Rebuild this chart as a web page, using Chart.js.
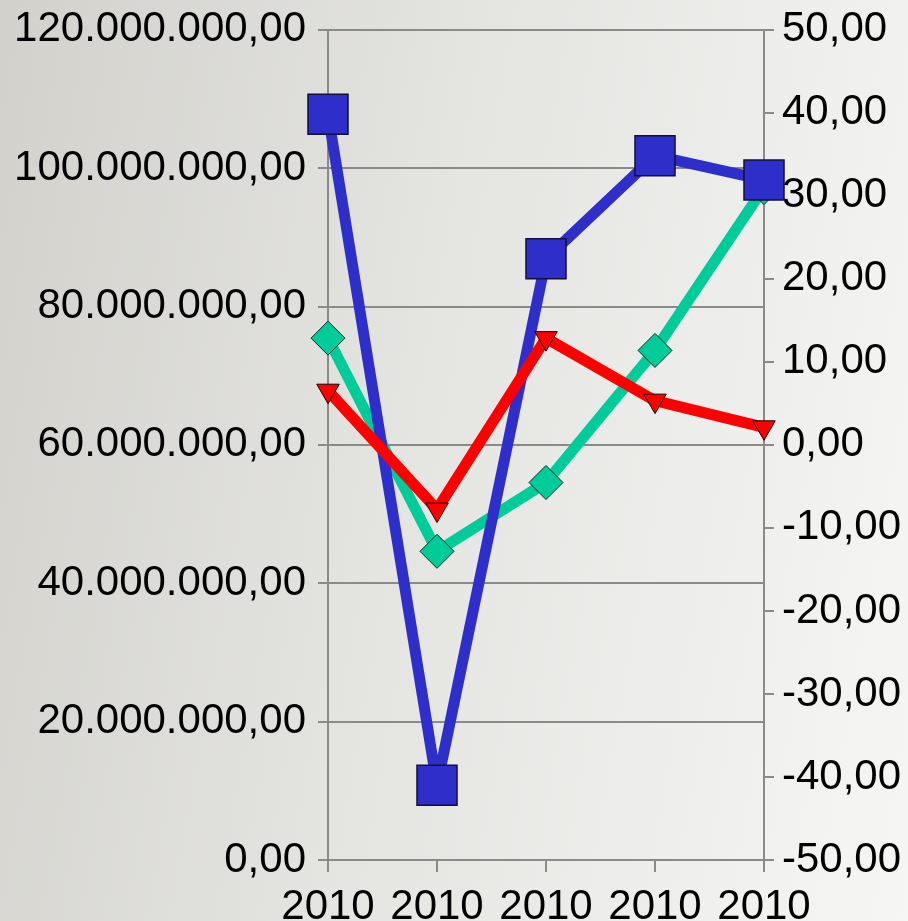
<!DOCTYPE html>
<html>
<head>
<meta charset="utf-8">
<script src="https://cdn.jsdelivr.net/npm/chart.js@4/dist/chart.umd.min.js"></script>
<style>
  html, body { margin: 0; padding: 0; }
  body {
    width: 908px; height: 921px; overflow: hidden;
    background: linear-gradient(100deg, #d2d1cc 0%, #e4e4e1 45%, #f6f6f5 100%);
  }
  canvas { display: block; }
</style>
</head>
<body>
<canvas id="c" width="908" height="921"></canvas>
<script>
// Data
const categories = ['2010', '2010', '2010', '2010', '2010'];
const blueValues = [107800000, 10800000, 86900000, 101800000, 98300000]; // left axis
const greenValues = [12.86, -12.82, -4.53, 11.38, 31.0];                 // right axis
const redValues = [6.53, -7.79, 12.86, 5.33, 2.12];                      // right axis
const leftTicks = [0, 20000000, 40000000, 60000000, 80000000, 100000000, 120000000];
const rightTicks = [-50, -40, -30, -20, -10, 0, 10, 20, 30, 40, 50];

function fmtNum(v) {
  const neg = v < 0;
  const abs = Math.abs(v);
  const parts = abs.toFixed(2).split('.');
  const intPart = parts[0].replace(/\B(?=(\d{3})+(?!\d))/g, '.');
  return (neg ? '-' : '') + intPart + ',' + parts[1];
}

const FONT = { family: '"Liberation Sans", Arial, sans-serif', size: 42 };
const GRID = '#8a8a8a';

new Chart(document.getElementById('c'), {
  type: 'line',
  data: {
    labels: categories,
    datasets: [
      {
        label: 'red',
        data: redValues,
        yAxisID: 'y1',
        borderColor: '#ff0000',
        backgroundColor: '#ff0000',
        borderWidth: 11,
        borderJoinStyle: 'round',
        pointStyle: 'triangle',
        rotation: 180,
        pointRadius: 13,
        pointBackgroundColor: '#ff0000',
        pointBorderColor: '#1a0000',
        pointBorderWidth: 1,
        tension: 0,
        order: 1
      },
      {
        label: 'blue',
        data: blueValues,
        yAxisID: 'y',
        borderColor: '#2e2ecb',
        backgroundColor: '#2e2ecb',
        borderWidth: 11,
        borderJoinStyle: 'round',
        pointStyle: 'rect',
        pointRadius: 28.3,
        pointBackgroundColor: '#2e2ecb',
        pointBorderColor: '#10103a',
        pointBorderWidth: 1.5,
        tension: 0,
        order: 2
      },
      {
        label: 'green',
        data: greenValues,
        yAxisID: 'y1',
        borderColor: '#00cc99',
        backgroundColor: '#00cc99',
        borderWidth: 11,
        borderJoinStyle: 'round',
        pointStyle: 'rectRot',
        pointRadius: 17,
        pointBackgroundColor: '#00cc99',
        pointBorderColor: '#0a2a20',
        pointBorderWidth: 1,
        tension: 0,
        order: 3
      }
    ]
  },
  options: {
    responsive: false,
    devicePixelRatio: 1,
    animation: false,
    events: [],
    layout: { padding: { top: 28, left: 0, right: 0, bottom: 0 } },
    plugins: { legend: { display: false }, tooltip: { enabled: false } },
    scales: {
      x: {
        type: 'category',
        offset: false,
        grid: { drawOnChartArea: false, drawTicks: true, tickLength: 12, color: GRID, lineWidth: 2 },
        border: { display: true, color: GRID, width: 2 },
        ticks: { font: FONT, color: '#000', padding: 10, maxRotation: 0, autoSkip: false },
        afterFit: s => { s.height = 61; s.paddingLeft = 0; s.paddingRight = 0; }
      },
      y: {
        position: 'left',
        min: 0,
        max: 120000000,
        afterBuildTicks: s => { s.ticks = leftTicks.map(v => ({ value: v })); },
        grid: { color: GRID, lineWidth: 2, tickLength: 10, drawTicks: true },
        border: { display: true, color: GRID, width: 2 },
        ticks: { font: FONT, color: '#000', padding: 12, callback: v => fmtNum(v) },
        afterFit: s => { s.width = 328; s.paddingTop = 0; s.paddingBottom = 0; }
      },
      y1: {
        position: 'right',
        min: -50,
        max: 50,
        afterBuildTicks: s => { s.ticks = rightTicks.map(v => ({ value: v })); },
        grid: { drawOnChartArea: false, color: GRID, lineWidth: 2, tickLength: 10, drawTicks: true },
        border: { display: true, color: GRID, width: 2 },
        ticks: { font: FONT, color: '#000', padding: 8, callback: v => fmtNum(v) },
        afterFit: s => { s.width = 144; s.paddingTop = 0; s.paddingBottom = 0; }
      }
    }
  }
});
</script>
</body>
</html>
